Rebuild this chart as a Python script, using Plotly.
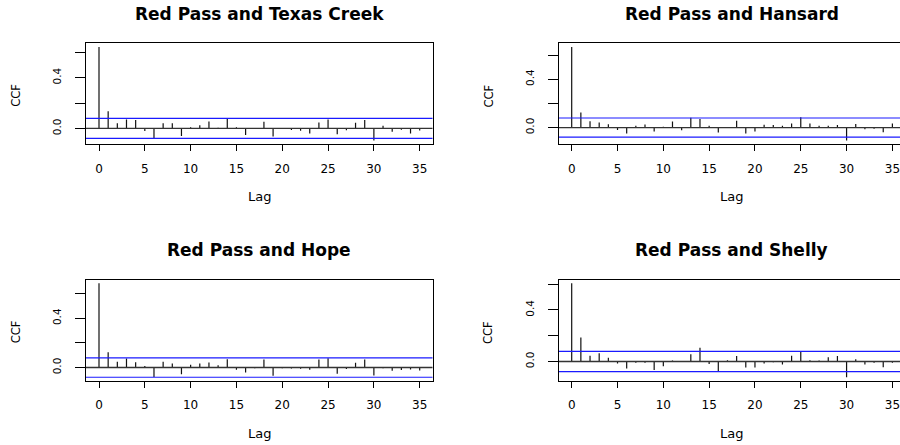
import plotly.graph_objects as go

# ---------------- data ----------------
lags = list(range(36))
titles = ["Red Pass and Texas Creek", "Red Pass and Hansard",
          "Red Pass and Hope", "Red Pass and Shelly"]

texas = [0.642, 0.135, 0.040, 0.071, 0.066, -0.020, -0.082, 0.040, 0.040, -0.060,
         0.010, 0.024, 0.055, 0.005, 0.082, 0.010, -0.053, 0.004, 0.053, -0.063,
         -0.004, -0.013, -0.018, -0.040, 0.047, 0.071, -0.047, -0.015, 0.045, 0.066,
         -0.096, 0.021, -0.026, -0.010, -0.040, -0.016]
hansard = [0.667, 0.125, 0.053, 0.042, 0.028, -0.020, -0.050, 0.014, 0.025, -0.033,
           0.006, 0.050, -0.022, 0.080, 0.070, 0.014, -0.042, 0.005, 0.056, -0.050,
           -0.033, 0.022, 0.020, 0.014, 0.033, 0.086, 0.033, 0.014, 0.014, 0.020,
           -0.108, 0.030, -0.014, -0.010, -0.040, 0.033]
hope = [0.685, 0.124, 0.046, 0.073, 0.043, 0.013, -0.078, 0.046, 0.032, -0.054,
        0.022, 0.032, 0.040, 0.019, 0.067, -0.019, -0.040, -0.005, 0.065, -0.067,
        -0.005, -0.008, -0.010, -0.019, 0.065, 0.075, -0.051, -0.013, 0.038, 0.065,
        -0.065, -0.005, -0.027, -0.020, -0.016, -0.024]
shelly = [0.607, 0.187, 0.044, 0.065, 0.029, -0.016, -0.055, -0.010, -0.010, -0.065,
          -0.036, 0.008, 0.003, 0.057, 0.106, -0.020, -0.078, 0.010, 0.042, -0.047,
          -0.047, -0.016, -0.005, -0.023, 0.044, 0.073, 0.010, 0.008, 0.034, 0.042,
          -0.122, 0.018, -0.023, -0.010, -0.044, -0.010]
ci = 0.079

x_tickvals = [0, 5, 10, 15, 20, 25, 30, 35]
y_tickvals = [0.0, 0.2, 0.4, 0.6]
y_ticktext = ["0.0", "", "0.4", ""]

series = [texas, hansard, hope, shelly]

# ---------------- layout geometry (pixels) ----------------
W, H = 900, 445
FONT = "DejaVu Sans"

def px_x(p):
    return p / W

def px_y(p):
    return 1 - p / H

# box: left, right, top, bottom (pixels); right panels run off the canvas
boxes = [
    (86.0, 432.7, 43.3, 144.3),
    (558.7, 900.0, 43.3, 144.3),
    (86.0, 432.7, 279.5, 381.0),
    (558.7, 900.0, 279.5, 381.0),
]
x_ranges = [[-1.419, 36.42], [-1.419, 35.83], [-1.419, 36.42], [-1.419, 35.83]]
title_cx = [259.4, 731.5, 259.4, 731.5]

fig = go.Figure()
annotations = []

for i, (vals, title) in enumerate(zip(series, titles)):
    k = "" if i == 0 else str(i + 1)
    xa, ya = "x" + k, "y" + k
    left, right, top, bottom = boxes[i]

    # spikes (type = "h")
    xs, ys = [], []
    for lag, v in zip(lags, vals):
        xs += [lag, lag, None]
        ys += [0, v, None]
    fig.add_trace(go.Scatter(x=xs, y=ys, mode="lines",
                             line=dict(color="#111111", width=1.2),
                             xaxis=xa, yaxis=ya, showlegend=False, hoverinfo="skip"))
    # zero line
    fig.add_trace(go.Scatter(x=x_ranges[i], y=[0, 0], mode="lines",
                             line=dict(color="#333333", width=1.3),
                             xaxis=xa, yaxis=ya, showlegend=False, hoverinfo="skip"))
    # confidence lines
    for c in (ci, -ci):
        fig.add_trace(go.Scatter(x=x_ranges[i], y=[c, c], mode="lines",
                                 line=dict(color="#1a1aff", width=1.2),
                                 xaxis=xa, yaxis=ya, showlegend=False, hoverinfo="skip"))

    lo = min(min(vals), -ci)
    hi = max(max(vals), ci)
    ext = 0.04 * (hi - lo)
    yr = [lo - ext, hi + ext]

    fig.layout["xaxis" + k] = dict(
        domain=[px_x(left), px_x(right)], range=x_ranges[i], anchor=ya,
        tickvals=x_tickvals, ticks="outside", ticklen=6, tickcolor="black",
        showline=True, mirror=True, linecolor="black", linewidth=1,
        showgrid=False, zeroline=False, ticklabelstandoff=7,
        ticklabeloverflow="allow",
        tickfont=dict(family=FONT, size=12, color="black"))
    fig.layout["yaxis" + k] = dict(
        domain=[px_y(bottom), px_y(top)], range=yr, anchor=xa,
        tickvals=y_tickvals, ticktext=y_ticktext, tickangle=-90,
        ticks="outside", ticklen=10, tickcolor="black",
        showline=True, mirror=(i % 2 == 0), linecolor="black", linewidth=1,
        showgrid=False, zeroline=False, ticklabelstandoff=10,
        tickfont=dict(family=FONT, size=10.5, color="black"))

    annotations.append(dict(text="<b>" + title + "</b>", x=px_x(title_cx[i]),
                            y=px_y(top - 29.5), xref="paper", yref="paper",
                            showarrow=False, xanchor="center", yanchor="middle",
                            font=dict(family=FONT, size=17, color="black")))
    annotations.append(dict(text="Lag", x=px_x(title_cx[i]), y=px_y(bottom + 52),
                            xref="paper", yref="paper", showarrow=False,
                            xanchor="center", yanchor="middle",
                            font=dict(family=FONT, size=13, color="black")))
    annotations.append(dict(text="CCF", x=px_x(left - 70), y=px_y((top + bottom) / 2 + 2),
                            xref="paper", yref="paper", showarrow=False, textangle=-90,
                            xanchor="center", yanchor="middle",
                            font=dict(family=FONT, size=11.5, color="black")))

fig.update_layout(width=W, height=H, margin=dict(l=0, r=0, t=0, b=0),
                  paper_bgcolor="white", plot_bgcolor="white",
                  annotations=annotations, showlegend=False, hovermode=False)

fig.write_html("out.html",
               config={"displayModeBar": False, "staticPlot": True},
               post_script="document.body.style.margin='0';"
                           "document.body.style.overflow='hidden';")
